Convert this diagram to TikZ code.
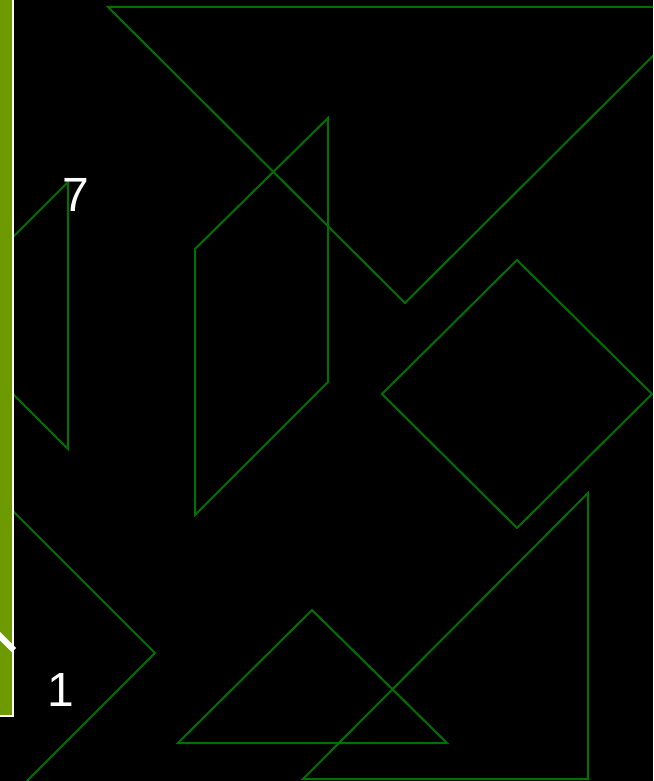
\documentclass[tikz,border=0pt]{standalone}
\usepackage{fontspec}
\setmainfont{Liberation Sans}
\definecolor{shapegreen}{RGB}{0,112,0}
\definecolor{barolive}{RGB}{108,154,0}
\tikzset{
  tan/.style={draw=shapegreen, line width=2pt, line join=miter},
  lbl/.style={text=white, font=\fontsize{48}{48}\selectfont, inner sep=0pt}
}
\begin{document}
\begin{tikzpicture}[x=1pt,y=-1pt]
\useasboundingbox (0,0) rectangle (653,781);
\fill[black] (0,0) rectangle (653,781);
\begin{scope}
\clip (0,0) rectangle (653,781);
% big top triangle
\draw[tan] (108,7) -- (702,7) -- (405,303) -- cycle;
% parallelogram
\draw[tan] (195,249) -- (328,118) -- (328,382) -- (195,515) -- cycle;
% square
\draw[tan] (517,260) -- (652,394) -- (517,528) -- (382,394) -- cycle;
% bottom right triangle
\draw[tan] (588,493) -- (588,779) -- (303,779) -- cycle;
% small triangle
\draw[tan] (312,610) -- (447,743) -- (178,743) -- cycle;
% left triangle
\draw[tan] (68,182) -- (68,449) -- (-65.5,315.5) -- cycle;
% bottom left triangle
\draw[tan] (155,653) -- (-128,370) -- (-128,936) -- cycle;
% bar
\fill[white] (0,0) rectangle (14,717);
\fill[barolive] (0,0) rectangle (12,715);
\draw[white, line width=6pt] (-6,630) -- (14,650);
\end{scope}
\node[lbl] (seven) at (76,195) {7};
\node[lbl] (one) at (61,690) {1};
\end{tikzpicture}
\end{document}
